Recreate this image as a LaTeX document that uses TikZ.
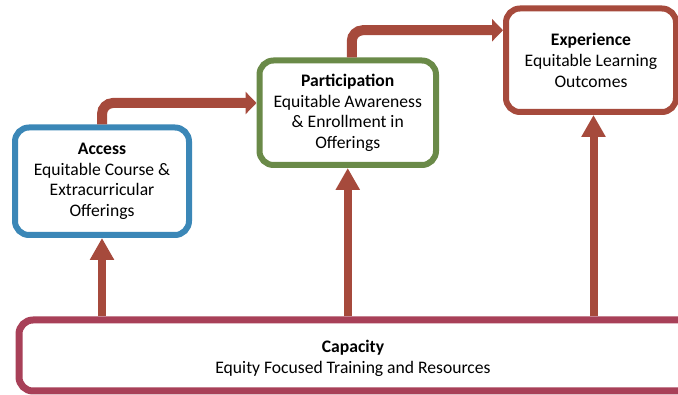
\documentclass[tikz,border=0pt]{standalone}
\usepackage{fontspec}
\setmainfont{Carlito}
\usetikzlibrary{arrows.meta,calc}
\definecolor{accblue}{RGB}{59,135,183}
\definecolor{pargreen}{RGB}{106,138,72}
\definecolor{arrred}{RGB}{166,74,60}
\definecolor{capred}{RGB}{168,64,88}
\tikzset{
  boxfont/.style={font=\fontsize{17.6}{20.8}\selectfont},
  box/.style={rectangle, rounded corners=14pt, line width=6pt, fill=white,
    align=center, boxfont, inner sep=0pt},
  uparrow/.style={arrred, line width=8pt, -{Triangle[length=22pt,width=23pt]}},
  elbow/.style={arrred, line width=10pt, rounded corners=11pt, -{Triangle[length=11pt,width=22pt]}},
}
\begin{document}
\begin{tikzpicture}[x=1pt,y=-1pt]
\useasboundingbox (0,0) rectangle (678,395);
\clip (0,0) rectangle (678,395);
% boxes
\node[box, draw=accblue, minimum width=174pt, minimum height=107.5pt] (acc) at (102,181.25)
  {\textbf{Access}\\Equitable Course \&\\Extracurricular\\Offerings};
\node[box, draw=pargreen, minimum width=176.5pt, minimum height=104.5pt] (par) at (347.75,112.75)
  {\textbf{Participation}\\Equitable Awareness\\\& Enrollment in\\Offerings};
\node[box, draw=arrred, minimum width=170pt, minimum height=103.5pt] (exp) at (591,60.25)
  {\textbf{Experience}\\Equitable Learning\\Outcomes};
\node[box, draw=capred, line width=7pt, minimum width=701pt, minimum height=71pt] (cap) at (369.5,355.5) {};
\node[align=center, boxfont, inner sep=0pt] (captext) at (353,358.5)
  {\textbf{Capacity}\\Equity Focused Training and Resources};
% arrows
\draw[uparrow] (acc.south |- cap.north) -- (acc.south);
\draw[uparrow] (par.south |- cap.north) -- (par.south);
\draw[uparrow] ([xshift=2.5pt]exp.south |- cap.north) -- ([xshift=2.5pt]exp.south);
\draw[elbow] (acc.north) |- ([yshift=9.75pt]par.west);
\draw[elbow] ([xshift=4pt]par.north) |- ([yshift=30pt]exp.west);
\end{tikzpicture}
\end{document}
